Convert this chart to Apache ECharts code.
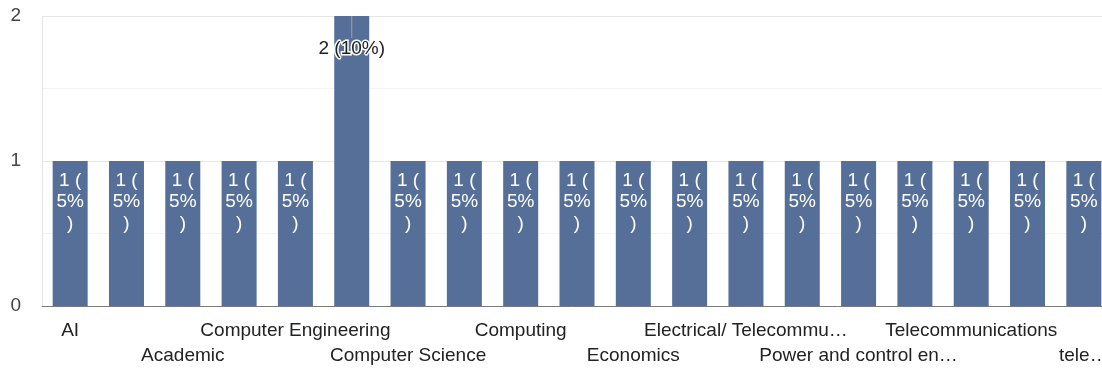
<!DOCTYPE html>
<html>
<head>
<meta charset="utf-8">
<script src="https://cdn.jsdelivr.net/npm/echarts@6/dist/echarts.min.js"></script>
<style>
  html, body { margin: 0; padding: 0; background: #fff; }
  #chart { width: 1102px; height: 368px; }
</style>
</head>
<body>
<div id="chart"></div>
<script>
// Survey answers: field of study, one bar per distinct response
const categories = [
  'AI',
  'AI and Robotics',
  'Academic',
  'Business Administration',
  'Computer Engineering',
  'Computer Networks',
  'Computer Science',
  'Computer Systems',
  'Computing',
  'Data Science',
  'Economics',
  'Electrical Engineering',
  'Electrical/ Telecommunications Engineering',
  'Information Technology',
  'Power and control engineering',
  'Software Engineering',
  'Telecommunications',
  'Telecommunications Engineering',
  'telecommunications engineering'
];
const counts = [1, 1, 1, 1, 1, 2, 1, 1, 1, 1, 1, 1, 1, 1, 1, 1, 1, 1, 1];
const yTicks = [0, 1, 2];

const FONT = '"Liberation Sans", Arial, Helvetica, sans-serif';
const FS = 19;
const LABEL_FONT = FS + 'px ' + FONT;
const MAX_LABEL_W = 207;
const total = counts.reduce((a, b) => a + b, 0);
const peak = Math.max(...counts);

function pct(v) { return Math.round(v / total * 100) + '%'; }

// Shorten long category names with an ellipsis so they fit the given width
function fitText(text, width) {
  const trunc = echarts.format && echarts.format.truncateText;
  if (trunc) return trunc(text, width, LABEL_FONT, '\u2026');
  return text;
}

// Tall bar gets its annotation with a short stem; the rest wrap inside the bar
const barData = counts.map(v => (
  v === peak ? { value: v, label: { distance: 0 } } : v
));

const chart = echarts.init(document.getElementById('chart'), null, { renderer: 'canvas' });
chart.setOption({
  animation: false,
  backgroundColor: '#fff',
  textStyle: { fontFamily: FONT },
  grid: { left: 42, top: 16, width: 1070, height: 290, outerBoundsMode: 'none', containLabel: false },
  xAxis: {
    type: 'category',
    data: categories,
    axisTick: { show: false },
    axisLine: { lineStyle: { color: '#7a7a7a', width: 1 } },
    axisLabel: {
      interval: 1,
      showMinLabel: true,
      showMaxLabel: true,
      hideOverlap: false,
      margin: 12,
      fontFamily: FONT,
      fontSize: FS,
      lineHeight: 25,
      color: '#222',
      formatter: (name, idx) => {
        // the last label is clipped by the right edge of the chart
        const w = idx === categories.length - 1 ? 60 : MAX_LABEL_W;
        const text = fitText(name, w);
        return (idx / 2) % 2 === 1 ? '\n' + text : text;
      }
    }
  },
  yAxis: {
    type: 'value',
    min: yTicks[0],
    max: yTicks[yTicks.length - 1],
    interval: 1,
    axisLine: { show: true, lineStyle: { color: '#e6e6e6' } },
    axisTick: { show: false },
    axisLabel: { fontFamily: FONT, fontSize: FS, color: '#444', margin: 21 },
    splitLine: { lineStyle: { color: '#e6e6e6' } },
    minorTick: { show: false, splitNumber: 2 },
    minorSplitLine: { show: true, lineStyle: { color: '#f3f3f3' } }
  },
  series: [{
    type: 'bar',
    data: barData,
    barWidth: 35,
    itemStyle: { color: '#566f98' },
    label: {
      show: true,
      position: 'insideTop',
      distance: 9,
      fontFamily: FONT,
      fontSize: FS,
      lineHeight: 21.5,
      color: '#fff',
      formatter: p => p.value === peak
        ? '{stem| }\n{txt|' + p.value + ' (' + pct(p.value) + ')}'
        : p.value + ' (\n' + pct(p.value) + '\n)',
      rich: {
        stem: { width: 1, height: 22, backgroundColor: '#a0a0a0', fontSize: 1, lineHeight: 22 },
        txt: {
          color: '#222', fontSize: FS, lineHeight: 22, fontFamily: FONT,
          textBorderColor: '#fff', textBorderWidth: 3
        }
      }
    }
  }]
});
</script>
</body>
</html>
